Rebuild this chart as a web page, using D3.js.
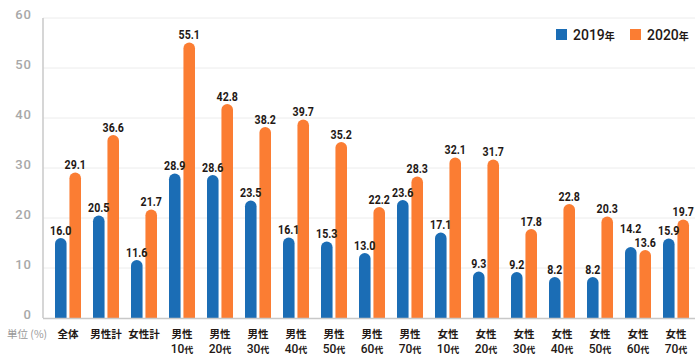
<!DOCTYPE html>
<html><head><meta charset="utf-8">
<script src="https://cdn.jsdelivr.net/npm/d3@7"></script>
<style>
body{margin:0;background:#fff;}
svg{display:block;}
</style></head>
<body>
<svg id="chart" width="700" height="360"></svg>
<script>
const categories = [
  ["全体",""],["男性計",""],["女性計",""],
  ["男性","10"],["男性","20"],["男性","30"],["男性","40"],["男性","50"],["男性","60"],["男性","70"],
  ["女性","10"],["女性","20"],["女性","30"],["女性","40"],["女性","50"],["女性","60"],["女性","70"]
];
const seriesNames = ["2019","2020"];
const values2019 = [16.0,20.5,11.6,28.9,28.6,23.5,16.1,15.3,13.0,23.6,17.1,9.3,9.2,8.2,8.2,14.2,15.9];
const values2020 = [29.1,36.6,21.7,55.1,42.8,38.2,39.7,35.2,22.2,28.3,32.1,31.7,17.8,22.8,20.3,13.6,19.7];
const yTicks = [0,10,20,30,40,50,60];
const colors = ["#1b6db5","#fb7d33"];

const svg = d3.select("#chart");
const mLeft = 43, mRight = 695, mTop = 18, mBottom = 318;
const x0 = d3.scaleBand().domain(d3.range(categories.length)).range([49, 695]);
const x1 = d3.scaleBand().domain([0,1]).range([-13,13]).paddingInner(0.2);
const y = d3.scaleLinear().domain([0,60]).range([mBottom, mTop]);

// gridlines
svg.append("g").selectAll("line").data(yTicks.filter(d=>d>0)).join("line")
  .attr("x1", mLeft).attr("x2", mRight)
  .attr("y1", d=>y(d)).attr("y2", d=>y(d))
  .attr("stroke", "#ececec").attr("stroke-width", 1);

// y axis
const yAxis = d3.axisLeft(y).tickValues(yTicks).tickSize(0).tickPadding(11);
const ga = svg.append("g").attr("transform", `translate(${mLeft},0)`).call(yAxis);
ga.select(".domain").remove();
ga.selectAll("text").attr("font-family","Roboto, 'Noto Sans', sans-serif")
  .attr("font-size", 13).attr("font-weight", 500).attr("fill", "#a8a8a8")
  .attr("letter-spacing", 1).attr("dy", "0.05em");

svg.append("line").attr("x1", mLeft).attr("x2", mLeft).attr("y1", mTop).attr("y2", mBottom)
  .attr("stroke", "#c8c8c8").attr("stroke-width", 1.5);

// bars
const data = [];
categories.forEach((c,i)=>{
  data.push({i, s:0, v: values2019[i]});
  data.push({i, s:1, v: values2020[i]});
});
function barPath(d){
  const w = x1.bandwidth();
  const xl = x0(d.i) + x0.bandwidth()/2 + x1(d.s);
  const yt = y(d.v), yb = y(0);
  const r = w/2;
  return `M${xl},${yb}L${xl},${yt+r}A${r},${r} 0 0 1 ${xl+w},${yt+r}L${xl+w},${yb}Z`;
}
svg.append("g").selectAll("path").data(data).join("path")
  .attr("d", barPath).attr("fill", d=>colors[d.s]);

// baseline
svg.append("line").attr("x1", mLeft).attr("x2", mRight).attr("y1", mBottom+0.5).attr("y2", mBottom+0.5)
  .attr("stroke", "#c8c8c8").attr("stroke-width", 1.5);

// value labels (avoid collisions within a group)
data.forEach(d => { d.ly = y(d.v) - 3.5; });
for (let k = 0; k < data.length; k += 2) {
  const a = data[k], b = data[k+1];
  if (Math.abs(a.ly - b.ly) < 13) {
    if (a.v >= b.v) a.ly = b.ly - 13.5; else b.ly = a.ly - 13.5;
  }
}
svg.append("g").selectAll("text").data(data).join("text")
  .attr("transform", d=> `translate(${x0(d.i) + x0.bandwidth()/2 + x1(d.s) + x1.bandwidth()/2},${d.ly}) scale(0.85,1)`)
  .attr("text-anchor","middle")
  .attr("font-family","Roboto, sans-serif")
  .attr("font-weight","bold").attr("font-size", 12.5).attr("fill","#231815")
  .text(d=>d.v.toFixed(1));

// category labels
const cl = svg.append("g").selectAll("text").data(categories).join("text")
  .attr("text-anchor","middle")
  .attr("font-family","'Noto Sans CJK JP', sans-serif")
  .attr("font-weight","bold").attr("fill","#231815");
cl.each(function(c,i){
  const t = d3.select(this);
  const cx = x0(i) + x0.bandwidth()/2;
  t.append("tspan").attr("x", cx).attr("y", 338).attr("font-size", 10.5).text(c[0]);
  if (c[1]) {
    const t2 = t.append("tspan").attr("x", cx).attr("y", 353);
    t2.append("tspan").attr("font-size", 12).attr("font-family","Roboto, sans-serif").attr("font-weight",500).text(c[1]);
    t2.append("tspan").attr("font-size", 9).text("代");
  }
});
svg.append("text").attr("x", 7).attr("y", 338)
  .attr("font-family","'Noto Sans CJK JP', sans-serif").attr("font-size", 10.5)
  .attr("fill","#999").text("単位 (%)");

// legend
const lg = svg.append("g").selectAll("g").data(seriesNames).join("g")
  .attr("transform", (d,i)=>`translate(${556 + i*74},29)`);
lg.append("rect").attr("width", 11).attr("height", 11).attr("fill", (d,i)=>colors[i]);
const lt = lg.append("text").attr("x", 17).attr("y", 10.5)
  .attr("font-family","Roboto, sans-serif").attr("font-weight",500)
  .attr("font-size", 14).attr("fill","#231815");
lt.append("tspan").text(d=>d);
lt.append("tspan").attr("font-family","'Noto Sans CJK JP', sans-serif").attr("font-weight","bold").attr("font-size", 10).text("年");
</script>
</body></html>
